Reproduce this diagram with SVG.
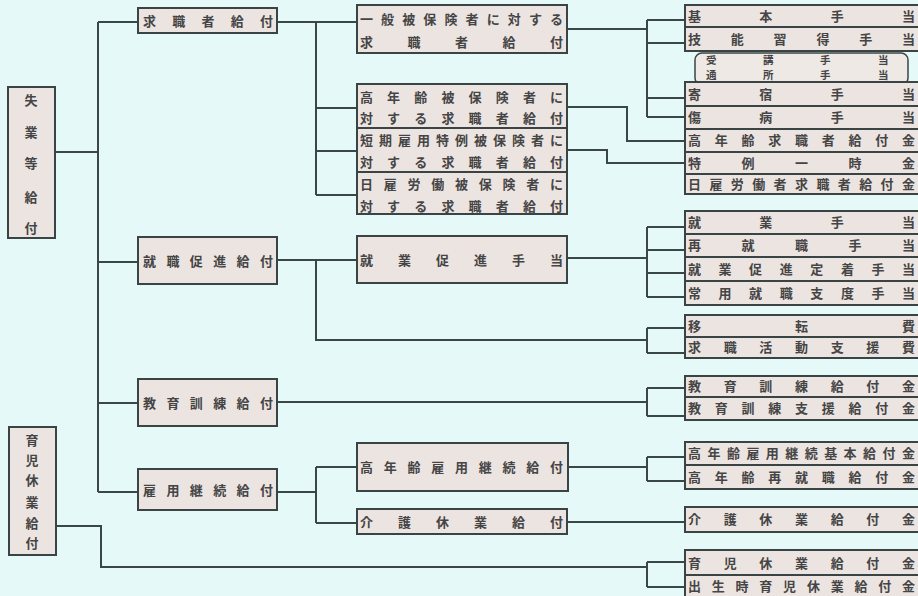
<svg xmlns="http://www.w3.org/2000/svg" width="918" height="596" viewBox="0 0 918 596">
<style>
.box{fill:#ece4e1;stroke:#3b4444;stroke-width:2}
.br{fill:#efe9e6;stroke:#3b4444;stroke-width:1.5}
.ln{fill:none;stroke:#3b4646;stroke-width:2}
text{font-family:"Noto Sans CJK JP","Noto Sans CJK SC",sans-serif;font-size:13px;font-weight:700;fill:#454545}
.v{text-anchor:middle}
.s{font-size:10.5px}
</style>
<rect x="0" y="0" width="918" height="596" fill="#e6f9f9"/>
<g id="connectors">
<path class="ln" d="M55 152H98M98 22V492M98 22H138M98 262H138M98 403H138M98 492H138"/>
<path class="ln" d="M277 22H357M316 22V195M316 108H357M316 151H357M316 195H357"/>
<path class="ln" d="M567 29H647M647 20V117M647 20H685M647 43H685M647 98H685M647 117H685"/>
<path class="ln" d="M567 107H627V141H685M567 150H607V163H685"/>
<path class="ln" d="M277 260H357M316 260V340H647M647 328V353M647 328H685M647 353H685"/>
<path class="ln" d="M567 258H647M647 227V297M647 227H685M647 250H685M647 273H685M647 297H685"/>
<path class="ln" d="M277 402H647M647 388V416M647 388H685M647 416H685"/>
<path class="ln" d="M277 492H316M316 467V523M316 467H357M316 523H357"/>
<path class="ln" d="M568 467H647M647 457V481M647 457H685M647 481H685M567 522H685"/>
<path class="ln" d="M56 526H101V567H647M647 562V587M647 562H685M647 587H685"/>
</g>
<g id="n-shitsugyo"><rect class="box" x="8" y="87" width="47" height="151"/><text class="v" x="31 31 31 31 31" y="105 137 168 202 233">失業等給付</text></g>
<g id="n-ikuji"><rect class="box" x="9" y="427" width="47" height="128"/><text class="v" x="32 32 32 32 32 32" y="445 465 485 507 528 548">育児休業給付</text></g>
<g id="n-kyushoku"><rect class="box" x="138" y="8" width="139" height="25"/><text x="143 172.3 201.5 230.8 260" y="26">求職者給付</text></g>
<g id="n-shushoku"><rect class="box" x="138" y="237" width="139" height="47"/><text x="143 166.4 189.8 213.2 236.6 260" y="266">就職促進給付</text></g>
<g id="n-kyoiku"><rect class="box" x="138" y="379" width="139" height="47"/><text x="143 166.4 189.8 213.2 236.6 260" y="408">教育訓練給付</text></g>
<g id="n-koyo"><rect class="box" x="138" y="469" width="139" height="41"/><text x="143 166.4 189.8 213.2 236.6 260" y="495">雇用継続給付</text></g>
<g id="n-ippan"><rect class="box" x="357" y="5" width="210" height="48"/><text x="360 381.1 402.2 423.3 444.4 465.6 486.7 507.8 528.9 550" y="24">一般被保険者に対する</text><text x="360 407.5 455 502.5 550" y="47">求職者給付</text></g>
<g id="n-konenrei-hi"><rect class="box" x="357" y="84" width="210" height="44"/><text x="360 387.1 414.3 441.4 468.6 495.7 522.9 550" y="102">高年齢被保険者に</text><text x="360 387.1 414.3 441.4 468.6 495.7 522.9 550" y="123">対する求職者給付</text></g>
<g id="n-tanki"><rect class="box" x="357" y="128" width="210" height="44"/><text x="360 379 398 417 436 455 474 493 512 531 550" y="145">短期雇用特例被保険者に</text><text x="360 387.1 414.3 441.4 468.6 495.7 522.9 550" y="167">対する求職者給付</text></g>
<g id="n-hiyatoi"><rect class="box" x="357" y="172" width="210" height="42"/><text x="360 383.8 407.5 431.3 455 478.8 502.5 526.3 550" y="189">日雇労働被保険者に</text><text x="360 387.1 414.3 441.4 468.6 495.7 522.9 550" y="211">対する求職者給付</text></g>
<g id="n-shugyo-sokushin"><rect class="box" x="357" y="236" width="210" height="47"/><text x="360 398 436 474 512 550" y="265">就業促進手当</text></g>
<g id="n-konenrei-keizoku"><rect class="box" x="357" y="443" width="211" height="48"/><text x="360 383.8 407.5 431.3 455 478.8 502.5 526.3 550" y="472">高年齢雇用継続給付</text></g>
<g id="n-kaigo"><rect class="box" x="357" y="509" width="210" height="25"/><text x="360 398 436 474 512 550" y="527">介護休業給付</text></g>
<g id="n-kihon"><rect class="box" x="685" y="5" width="240" height="22"/><text x="688 759.3 830.7 902" y="21">基本手当</text></g>
<g id="n-gino"><rect class="box" x="685" y="27" width="240" height="24"/><text x="688 730.8 773.6 816.4 859.2 902" y="44">技能習得手当</text></g>
<g id="n-juko"><rect class="br" x="695" y="53" width="213" height="32" rx="7"/><text class="s" x="706 763 820 878" y="63.5">受講手当</text><text class="s" x="706 763 820 878" y="79">通所手当</text></g>
<g id="n-kishuku"><rect class="box" x="685" y="82" width="240" height="24"/><text x="688 759.3 830.7 902" y="99">寄宿手当</text></g>
<g id="n-shobyo"><rect class="box" x="685" y="106" width="240" height="23"/><text x="688 759.3 830.7 902" y="122">傷病手当</text></g>
<g id="n-konenrei-kyushoku"><rect class="box" x="685" y="129" width="240" height="23"/><text x="688 714.8 741.5 768.3 795 821.8 848.5 875.3 902" y="145">高年齢求職者給付金</text></g>
<g id="n-tokurei"><rect class="box" x="685" y="152" width="240" height="22"/><text x="688 741.5 795 848.5 902" y="168">特例一時金</text></g>
<g id="n-hiyatoi-kin"><rect class="box" x="685" y="174" width="240" height="20"/><text x="688 709.4 730.8 752.2 773.6 795 816.4 837.8 859.2 880.6 902" y="189">日雇労働者求職者給付金</text></g>
<g id="n-shugyo"><rect class="box" x="685" y="211" width="240" height="23"/><text x="688 759.3 830.7 902" y="227">就業手当</text></g>
<g id="n-saishushoku"><rect class="box" x="685" y="234" width="240" height="23"/><text x="688 741.5 795 848.5 902" y="250">再就職手当</text></g>
<g id="n-teichaku"><rect class="box" x="685" y="257" width="240" height="24"/><text x="688 718.6 749.1 779.7 810.3 840.9 871.4 902" y="274">就業促進定着手当</text></g>
<g id="n-joyo"><rect class="box" x="685" y="281" width="240" height="24"/><text x="688 718.6 749.1 779.7 810.3 840.9 871.4 902" y="298">常用就職支度手当</text></g>
<g id="n-iten"><rect class="box" x="685" y="315" width="240" height="22"/><text x="688 795 902" y="331">移転費</text></g>
<g id="n-katsudo"><rect class="box" x="685" y="337" width="240" height="21"/><text x="688 723.7 759.3 795 830.7 866.3 902" y="352">求職活動支援費</text></g>
<g id="n-kyoiku-kin"><rect class="box" x="685" y="376" width="240" height="21"/><text x="688 723.7 759.3 795 830.7 866.3 902" y="391">教育訓練給付金</text></g>
<g id="n-kyoiku-shien"><rect class="box" x="685" y="397" width="240" height="23"/><text x="688 714.8 741.5 768.3 795 821.8 848.5 875.3 902" y="413">教育訓練支援給付金</text></g>
<g id="n-keizoku-kihon"><rect class="box" x="685" y="442" width="240" height="23"/><text x="688 707.5 726.9 746.4 765.8 785.3 804.7 824.2 843.6 863.1 882.5 902" y="458">高年齢雇用継続基本給付金</text></g>
<g id="n-saishushoku-kin"><rect class="box" x="685" y="465" width="240" height="24"/><text x="688 714.8 741.5 768.3 795 821.8 848.5 875.3 902" y="482">高年齢再就職給付金</text></g>
<g id="n-kaigo-kin"><rect class="box" x="685" y="507" width="240" height="25"/><text x="688 723.7 759.3 795 830.7 866.3 902" y="524">介護休業給付金</text></g>
<g id="n-ikuji-kin"><rect class="box" x="685" y="550" width="240" height="25"/><text x="688 723.7 759.3 795 830.7 866.3 902" y="568">育児休業給付金</text></g>
<g id="n-shussei"><rect class="box" x="685" y="575" width="240" height="23"/><text x="688 711.8 735.6 759.3 783.1 806.9 830.7 854.4 878.2 902" y="591">出生時育児休業給付金</text></g>
</svg>
